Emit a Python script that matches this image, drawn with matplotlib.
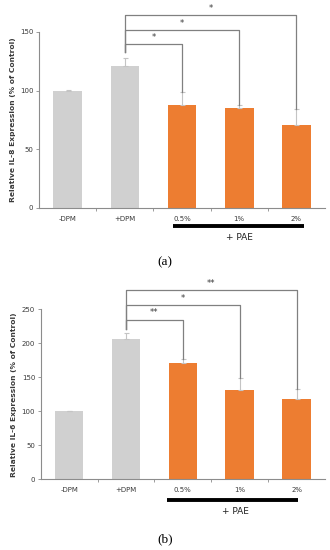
import matplotlib
matplotlib.use("Agg")
import matplotlib.pyplot as plt
import matplotlib.transforms as mtransforms

categories = ["-DPM", "+DPM", "0.5%", "1%", "2%"]
il8_means = [100, 121, 87.5, 85, 70.7]
il8_errs = [0.3, 6.5, 11.5, 2.5, 14]
il6_means = [100, 206.5, 170.5, 132, 117.5]
il6_errs = [0.5, 8, 6, 17, 16]
bar_colors = ["#D0D0D0", "#D0D0D0", "#ED7D31", "#ED7D31", "#ED7D31"]

# stars for +DPM vs 0.5%, 1%, 2%
il8_stars = ["*", "*", "*"]
il6_stars = ["**", "*", "**"]
il8_ylabel = "Relative IL-8 Expression (% of Control)"
il6_ylabel = "Relative IL-6 Expression (% of Control)"

TXT = "#3a3a3a"
AX = "#8c8c8c"


def draw_panel(ax, means, errs, stars, ylabel, ymax, ystep, levels, left_start,
               line_y, line_x, pae_xy):
    x = list(range(len(categories)))
    ax.bar(x, means, width=0.5, color=bar_colors, zorder=2)
    ax.errorbar(x, means, yerr=[[0] * len(errs), errs], fmt="none",
                ecolor="#c4c4c4", elinewidth=0.8, capsize=1.8, capthick=0.8, zorder=3)
    ax.set_xlim(-0.5, len(categories) - 0.5)
    ax.set_ylim(0, ymax)
    ax.set_yticks(range(0, ymax + 1, ystep))
    ax.set_xticks(x)
    ax.set_xticklabels(categories)
    ax.set_xticks([i + 0.5 for i in x[:-1]], minor=True)
    ax.tick_params(axis="x", which="major", length=0, pad=5.5, labelsize=5, labelcolor=TXT)
    ax.tick_params(axis="x", which="minor", length=2, width=0.6, color=AX, direction="out")
    ax.tick_params(axis="y", length=2, width=0.6, color=AX, labelsize=5, labelcolor=TXT, pad=2)
    for s in ["top", "right"]:
        ax.spines[s].set_visible(False)
    for s in ["left", "bottom"]:
        ax.spines[s].set_color(AX)
        ax.spines[s].set_linewidth(0.8)
    ax.set_ylabel(ylabel, fontsize=5.4, fontweight="bold", color=TXT, labelpad=3)

    # significance brackets from +DPM to each PAE bar (0.5% lowest)
    for target, level, star in zip([2, 3, 4], levels, stars):
        top = means[target] + errs[target]
        ax.plot([1, 1, target, target], [left_start, level, level, top],
                color="#808080", lw=0.9, clip_on=False, zorder=4)
        ax.text((1 + target) / 2, level + ymax * 0.012, star, ha="center", va="bottom",
                fontsize=6, color=TXT, clip_on=False)

    trans = mtransforms.blended_transform_factory(ax.transData, ax.transAxes)
    ax.plot(line_x, [line_y, line_y], color="black", lw=2.8, transform=trans,
            clip_on=False, solid_capstyle="butt")
    ax.text(pae_xy[0], pae_xy[1], "+ PAE", transform=trans, ha="center", va="center",
            fontsize=6.5, color="#222222")


fig = plt.figure(figsize=(3.3, 5.5), dpi=100)
fig.patch.set_facecolor("white")

ax1 = fig.add_axes([39 / 330, 1 - 208 / 550, 286 / 330, 176 / 550])
draw_panel(ax1, il8_means, il8_errs, il8_stars, il8_ylabel, 150, 50,
           [139.8, 151.7, 164.5], 133, -0.1, [1.84, 4.13], (3.0, -0.17))

ax2 = fig.add_axes([40.7 / 330, 1 - 479.3 / 550, 284.3 / 330, 170 / 550])
draw_panel(ax2, il6_means, il6_errs, il6_stars, il6_ylabel, 250, 50,
           [235, 256, 278], 221, -0.122, [1.73, 4.02], (2.93, -0.19))

fig.text(165 / 330, 1 - 262 / 550, "(a)", ha="center", va="center",
         fontsize=9.5, family="Liberation Serif")
fig.text(165 / 330, 1 - 539 / 550, "(b)", ha="center", va="center",
         fontsize=9.5, family="Liberation Serif")

fig.savefig("out.png", dpi=100)
